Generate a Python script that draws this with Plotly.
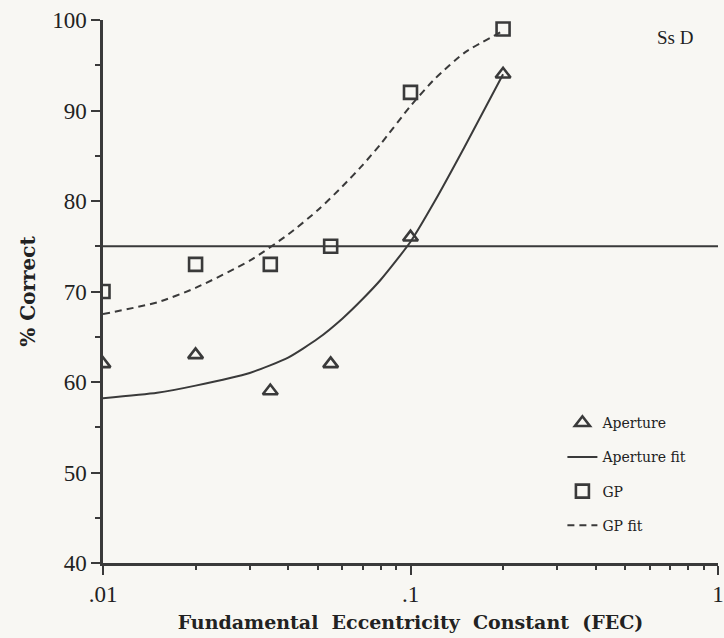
import plotly.graph_objects as go

# Fundamental eccentricity constant levels tested
fec = [0.01, 0.02, 0.035, 0.055, 0.1, 0.2]

# Observed percent correct
aperture = [62, 63, 59, 62, 76, 94]
gp = [70, 73, 73, 75, 92, 99]

# Fitted psychometric curves (sampled along FEC)
fit_x = [0.01, 0.015, 0.02, 0.03, 0.04, 0.05, 0.06, 0.07, 0.08, 0.1, 0.12, 0.15, 0.2]
aperture_fit = [58.2, 58.8, 59.6, 61.0, 62.7, 64.8, 67.0, 69.2, 71.3, 75.5, 80.0, 86.0, 94.0]
gp_fit = [67.5, 68.8, 70.4, 73.4, 76.3, 79.0, 81.6, 84.0, 86.3, 90.5, 93.5, 96.4, 98.8]

# Threshold criterion
criterion_x = [0.01, 1]
criterion = [75, 75]

x_ticks = [0.01, 0.1, 1]
x_ticklabels = [".01", ".1", "1"]

INK = "#3a3a3a"
TEXT = "#222222"
SERIF = "Liberation Serif"
WIDE_SERIF = "DejaVu Serif"
BG = "#f8f7f3"

fig = go.Figure()

fig.add_trace(go.Scatter(
    x=criterion_x, y=criterion, mode="lines",
    line=dict(color=INK, width=2), showlegend=False, hoverinfo="skip",
))
fig.add_trace(go.Scatter(
    x=fec, y=aperture, mode="markers", name="Aperture", legendgroup="a",
    marker=dict(symbol="triangle-up-open", size=13, color=INK, line=dict(width=2.6, color=INK)),
))
fig.add_trace(go.Scatter(
    x=fit_x, y=aperture_fit, mode="lines", name="Aperture fit", legendgroup="b",
    line=dict(color=INK, width=2, shape="spline", smoothing=0.6),
))
fig.add_trace(go.Scatter(
    x=fec, y=gp, mode="markers", name="GP", legendgroup="c",
    marker=dict(symbol="square-open", size=13, color=INK, line=dict(width=2.6, color=INK)),
))
fig.add_trace(go.Scatter(
    x=fit_x, y=gp_fit, mode="lines", name="GP fit", legendgroup="d",
    line=dict(color=INK, width=2, dash="7px,5px", shape="spline", smoothing=0.6),
))

fig.add_annotation(
    text="Ss D", x=0.93, y=0.968, xref="paper", yref="paper",
    showarrow=False, xanchor="center", yanchor="middle",
    font=dict(family=SERIF, size=19, color=TEXT),
)

fig.update_layout(
    width=724, height=638,
    margin=dict(l=103, r=6, t=20, b=75, autoexpand=False),
    paper_bgcolor=BG, plot_bgcolor=BG,
    font=dict(family=SERIF, color=TEXT),
    legend=dict(
        x=0.747, y=0.287, xanchor="left", yanchor="top",
        bgcolor="rgba(0,0,0,0)", font=dict(family=WIDE_SERIF, size=14, color=TEXT),
        tracegroupgap=13, traceorder="grouped", itemwidth=30,
    ),
    xaxis=dict(
        type="log", range=[-2, 0], automargin=False,
        tickvals=x_ticks, ticktext=x_ticklabels,
        ticks="outside", ticklen=9, tickwidth=2, tickcolor=INK,
        ticklabeloverflow="allow",
        minor=dict(ticks="outside", ticklen=4, tickwidth=2, tickcolor=INK, dtick="D1", showgrid=False),
        showline=True, linecolor=INK, linewidth=2.5,
        showgrid=False, zeroline=False,
        tickfont=dict(family=SERIF, size=23, color=TEXT),
        title=dict(text="Fundamental\u00a0 Eccentricity\u00a0 Constant\u00a0 (FEC)",
                   font=dict(family=WIDE_SERIF, size=19, color=TEXT, weight="bold"), standoff=10),
    ),
    yaxis=dict(
        range=[40, 100], dtick=10, automargin=False,
        ticks="outside", ticklen=9, tickwidth=2, tickcolor=INK,
        minor=dict(ticks="outside", ticklen=5, tickwidth=2, tickcolor=INK, dtick=5, showgrid=False),
        showline=True, linecolor=INK, linewidth=2.5,
        showgrid=False, zeroline=False,
        tickfont=dict(family=SERIF, size=23, color=TEXT),
        title=dict(text="% Correct", font=dict(family=WIDE_SERIF, size=20, color=TEXT, weight="bold"), standoff=12),
    ),
)

fig.write_html("out.html")
